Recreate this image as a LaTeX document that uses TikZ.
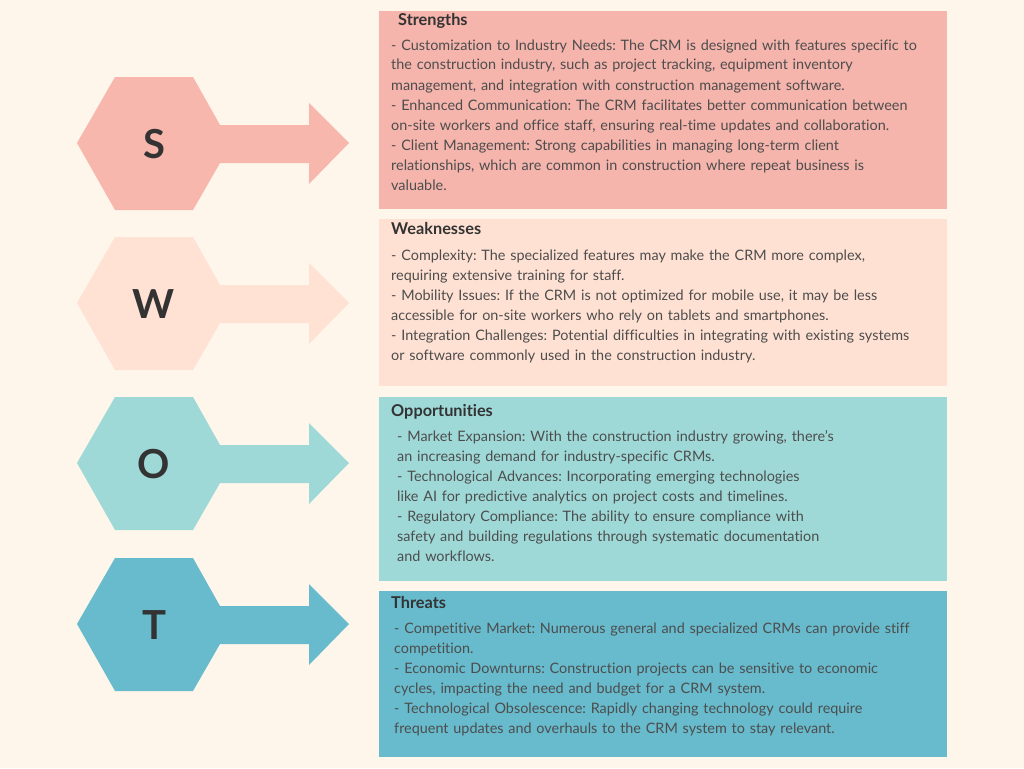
\documentclass[tikz,border=0pt]{standalone}
\usepackage{fontspec}
\setmainfont{Lato}[Ligatures=NoCommon]
\frenchspacing
\definecolor{bgc}{HTML}{FEF6EB}
\definecolor{sc}{HTML}{F7B7AD}
\definecolor{sbox}{HTML}{F5B4AC}
\definecolor{wc}{HTML}{FFE2D4}
\definecolor{wbox}{HTML}{FFE1D3}
\definecolor{oc}{HTML}{9ED9D8}
\definecolor{tc}{HTML}{67BBCD}
\definecolor{bodyc}{HTML}{4D4D4D}
\definecolor{titlec}{HTML}{333333}
\tikzset{
  letter/.style={font=\fontsize{40}{40}\selectfont\bfseries, text=titlec, inner sep=0pt},
  boxtitle/.style={font=\fontsize{16.3}{18}\selectfont\bfseries, text=titlec, inner sep=0pt, anchor=base west},
  boxbody/.style={font=\fontsize{14.4}{20}\selectfont\frenchspacing, text=bodyc, inner sep=0pt, anchor=base west, text width=560pt, align=left},
}
\newcommand{\hexarrow}[2]{%
  \fill[#2] (77,#1) -- (115,#1-66) -- (193,#1-66) -- (220,#1-18) -- (309,#1-18) -- (309,#1-40)
    -- (349,#1) -- (309,#1+41) -- (309,#1+20) -- (220,#1+20) -- (193,#1+67) -- (115,#1+67) -- cycle;}
\begin{document}
\begin{tikzpicture}[x=1pt,y=-1pt]
\useasboundingbox (0,0) rectangle (1024,768);
\fill[bgc] (0,0) rectangle (1024,768);
% hexagon arrows
\hexarrow{143}{sc}
\hexarrow{303}{wc}
\hexarrow{463}{oc}
\hexarrow{624}{tc}
\node[letter] (ls) at (154,144) {S};
\node[letter] (lw) at (154,304) {W};
\node[letter] (lo) at (154,464) {O};
\node[letter] (lt) at (154,625) {T};
% boxes
\fill[sbox] (379,11) rectangle (947,209);
\fill[wbox] (379,219) rectangle (947,386);
\fill[oc] (379,397) rectangle (947,581);
\fill[tc] (379,591) rectangle (947,757);
% texts
\node[boxtitle] (st) at (398,26) {Strengths};
\node[boxbody] (sb) at (391,50) {- Customization to Industry Needs: The CRM is designed with features specific to\\
the construction industry, such as project tracking, equipment inventory\\
management, and integration with construction management software.\\
- Enhanced Communication: The CRM facilitates better communication between\\
on-site workers and office staff, ensuring real-time updates and collaboration.\\
- Client Management: Strong capabilities in managing long-term client\\
relationships, which are common in construction where repeat business is\\
valuable.};
\node[boxtitle] (wt) at (391,234) {Weaknesses};
\node[boxbody] (wb) at (391,260) {- Complexity: The specialized features may make the CRM more complex,\\
requiring extensive training for staff.\\
- Mobility Issues: If the CRM is not optimized for mobile use, it may be less\\
accessible for on-site workers who rely on tablets and smartphones.\\
- Integration Challenges: Potential difficulties in integrating with existing systems\\
or software commonly used in the construction industry.};
\node[boxtitle] (ot) at (391,416) {Opportunities};
\node[boxbody] (ob) at (397,441) {- Market Expansion: With the construction industry growing, there's\\
an increasing demand for industry-specific CRMs.\\
- Technological Advances: Incorporating emerging technologies\\
like AI for predictive analytics on project costs and timelines.\\
- Regulatory Compliance: The ability to ensure compliance with\\
safety and building regulations through systematic documentation\\
and workflows.};
\node[boxtitle] (tt) at (391,608) {Threats};
\node[boxbody] (tb) at (394,633) {- Competitive Market: Numerous general and specialized CRMs can provide stiff\\
competition.\\
- Economic Downturns: Construction projects can be sensitive to economic\\
cycles, impacting the need and budget for a CRM system.\\
- Technological Obsolescence: Rapidly changing technology could require\\
frequent updates and overhauls to the CRM system to stay relevant.};
\end{tikzpicture}
\end{document}
